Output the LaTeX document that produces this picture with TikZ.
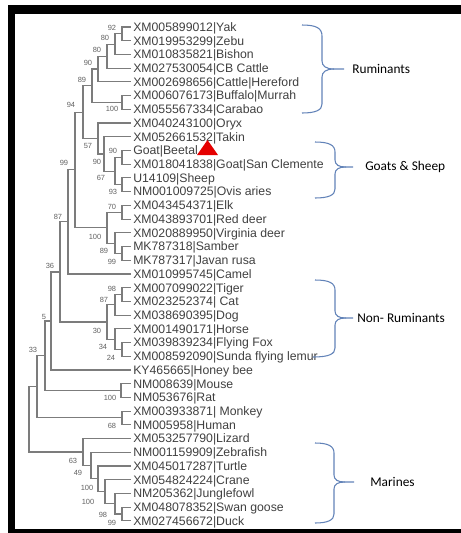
\documentclass[tikz,border=0pt]{standalone}
\usepackage{fontspec}
\setmainfont{Liberation Sans}
\newfontfamily\calibri{Carlito}
\usepackage{xcolor}
\usepackage{tikz}
\usetikzlibrary{positioning,calc}
\definecolor{treegray}{HTML}{7C7C7C}
\definecolor{labgray}{HTML}{404040}
\definecolor{bootgray}{HTML}{606060}
\definecolor{bracecol}{HTML}{6283B8}
\tikzset{
  branch/.style={draw=treegray, line width=0.85pt},
  leaf/.style={anchor=west, inner xsep=1.5pt, inner ysep=0pt, text height=7.8pt, text depth=1.3pt,
    text=labgray, font=\fontsize{9.2}{10}\selectfont},
  boot/.style={inner sep=0pt, text=bootgray, font=\fontsize{5.6}{6}\selectfont},
  grouplab/.style={anchor=west, inner sep=0pt, font=\calibri\fontsize{10}{12}\selectfont},
  bracket/.style={draw=bracecol, line width=0.8pt}
}
\begin{document}
\begin{tikzpicture}[x=0.75pt, y=-0.75pt]
    \useasboundingbox (0,0) rectangle (461,533);
    % Frame
    \fill[black] (8,5) rectangle (461,14);
    \fill[black] (8,5) rectangle (15,533);
    \fill[black] (8,529) rectangle (461,533);

    % Leaves
    \foreach \name/\txt [count=\i from 0] in {
        yak/XM005899012|Yak, zebu/XM019953299|Zebu, bishon/XM010835821|Bishon,
        cbcattle/XM027530054|CB Cattle, hereford/XM002698656|Cattle|Hereford,
        buffalo/XM006076173|Buffalo|Murrah, carabao/XM055567334|Carabao,
        oryx/XM040243100|Oryx, takin/XM052661532|Takin, beetal/Goat|Beetal,
        clemente/XM018041838|Goat|San Clemente, sheep/U14109|Sheep,
        ovis/NM001009725|Ovis aries, elk/XM043454371|Elk, reddeer/XM043893701|Red deer,
        virginia/XM020889950|Virginia deer, samber/MK787318|Samber,
        javan/MK787317|Javan rusa, camel/XM010995745|Camel, tiger/XM007099022|Tiger,
        cat/XM023252374| Cat, dog/XM038690395|Dog, horse/XM001490171|Horse,
        fox/XM039839234|Flying Fox, lemur/XM008592090|Sunda flying lemur,
        bee/KY465665|Honey bee, mouse/NM008639|Mouse, rat/NM053676|Rat,
        monkey/XM003933871| Monkey, human/NM005958|Human, lizard/XM053257790|Lizard,
        zebrafish/NM001159909|Zebrafish, turtle/XM045017287|Turtle,
        crane/XM054824224|Crane, jungle/NM205362|Junglefowl,
        swan/XM048078352|Swan goose, duck/XM027456672|Duck}
        \node[leaf] (\name) at (131, 27+13.72*\i) {\txt};

    % Internal nodes
    \foreach \name/\px/\py in {
        bos1/122/33.85, bos2/115/44.1, bos3/107/56.2, bos4/98/69, bub/122/102.5, bov/92/85.7,
        cap/122/157.4, ovi/122/184.8, capov/115/171.1, tak/104/154, ory/98/138.5, rum/83/112.1,
        cer1/122/212.2, rusa/122/253.4, cer2/115/243.1, cer/107/227.6, art/75/169.9, cam/68/221.9,
        fel/122/294.5, car/115/304.8, pte/122/349.4, per/115/339.1, nrum/107/322,
        mam/60/272, bee5/51/321, mur/121/390.5, g33/45/355.8, hom/122/417.9, g37/37/386.8,
        root/29/419.4, mar1/83/452, mar2/91/465.6, mar3/98/478.8, mar4/105/491.7,
        mar5/115/503.7, mar6/122/514}
        \coordinate (\name) at (\px,\py);

    % Branches
    \foreach \p/\c in {
        bos1/yak, bos1/zebu, bos2/bos1, bos2/bishon, bos3/bos2, bos3/cbcattle,
        bos4/bos3, bos4/hereford, bub/buffalo, bub/carabao, bov/bos4, bov/bub,
        cap/beetal, cap/clemente, ovi/sheep, ovi/ovis, capov/cap, capov/ovi,
        tak/takin, tak/capov, ory/oryx, ory/tak, rum/bov, rum/ory,
        cer1/elk, cer1/reddeer, rusa/samber, rusa/javan, cer2/virginia, cer2/rusa,
        cer/cer1, cer/cer2, art/rum, art/cer, cam/art, cam/camel,
        fel/tiger, fel/cat, car/fel, car/dog, pte/fox, pte/lemur, per/horse, per/pte,
        nrum/car, nrum/per, mam/cam, mam/nrum, bee5/mam, bee5/bee,
        mur/mouse, mur/rat, g33/bee5, g33/mur, hom/monkey, hom/human,
        g37/g33, g37/hom, root/g37, root/mar1,
        mar6/swan, mar6/duck, mar5/jungle, mar5/mar6, mar4/crane, mar4/mar5,
        mar3/turtle, mar3/mar4, mar2/zebrafish, mar2/mar3, mar1/lizard, mar1/mar2}
        \draw[branch] (\p) |- (\c);

    % Bootstrap values
    \foreach \bx/\by/\v [count=\k] in {
        112/28/92, 105/38/80, 97/50/80, 88/63/90, 82/80/89, 112/109/100, 71/105/94,
        88/146/57, 97/162/90, 113/151/90, 101/178/67, 113/192/93, 64/163/99,
        112/207/70, 58/217/87, 95/237/100, 104/251/89, 112/262/99, 50/266/36,
        112/289/98, 104/300/87, 44/317/5, 97/331/30, 103/347/34, 111/358/24,
        33/350/33, 110/398/100, 112/426/68, 73/461/63, 78/473/49, 87/488/100,
        88/502/100, 103/515/98, 112/523/99}
        \node[boot] (bs\k) at (\bx,\by) {\v};

    % Marker
    \fill[red!90!black] (197,155) -- (207.5,140) -- (218,155) -- cycle;

    % Brackets
    \draw[bracket] (302,25) .. controls (316,25) and (322,28) .. (322,36) -- (322,61)
        .. controls (322,66) and (326,69) .. (334,69) -- (344,69);
    \draw[bracket] (334,69) .. controls (326,69) and (322,72) .. (322,77) -- (322,104)
        .. controls (322,110) and (316,113) .. (302,113);
    \draw[bracket] (315,142) .. controls (329,142) and (335,145) .. (335,152) -- (335,160)
        .. controls (335,165) and (339,167) .. (346,167) -- (353,167);
    \draw[bracket] (346,167) .. controls (339,167) and (335,169) .. (335,174) -- (335,189)
        .. controls (335,195) and (329,198) .. (315,198);
    \draw[bracket] (315,280) .. controls (329,280) and (335,283) .. (335,290) -- (335,311)
        .. controls (335,316) and (339,318) .. (346,318) -- (353,318);
    \draw[bracket] (346,318) .. controls (339,318) and (335,320) .. (335,325) -- (335,348)
        .. controls (335,354) and (329,357) .. (313,357);
    \draw[bracket] (315,443) .. controls (328,443) and (334,446) .. (334,453) -- (334,475)
        .. controls (334,480) and (338,482) .. (345,482) -- (354,482);
    \draw[bracket] (345,482) .. controls (338,482) and (334,484) .. (334,489) -- (334,514)
        .. controls (334,520) and (328,523) .. (315,523);

    % Group labels
    \node[grouplab] (ruminants) at (352,69) {Ruminants};
    \node[grouplab] (goats) at (365,167) {Goats \& Sheep};
    \node[grouplab] (nonrum) at (357,318) {Non- Ruminants};
    \node[grouplab] (marines) at (370,482) {Marines};
\end{tikzpicture}
\end{document}
